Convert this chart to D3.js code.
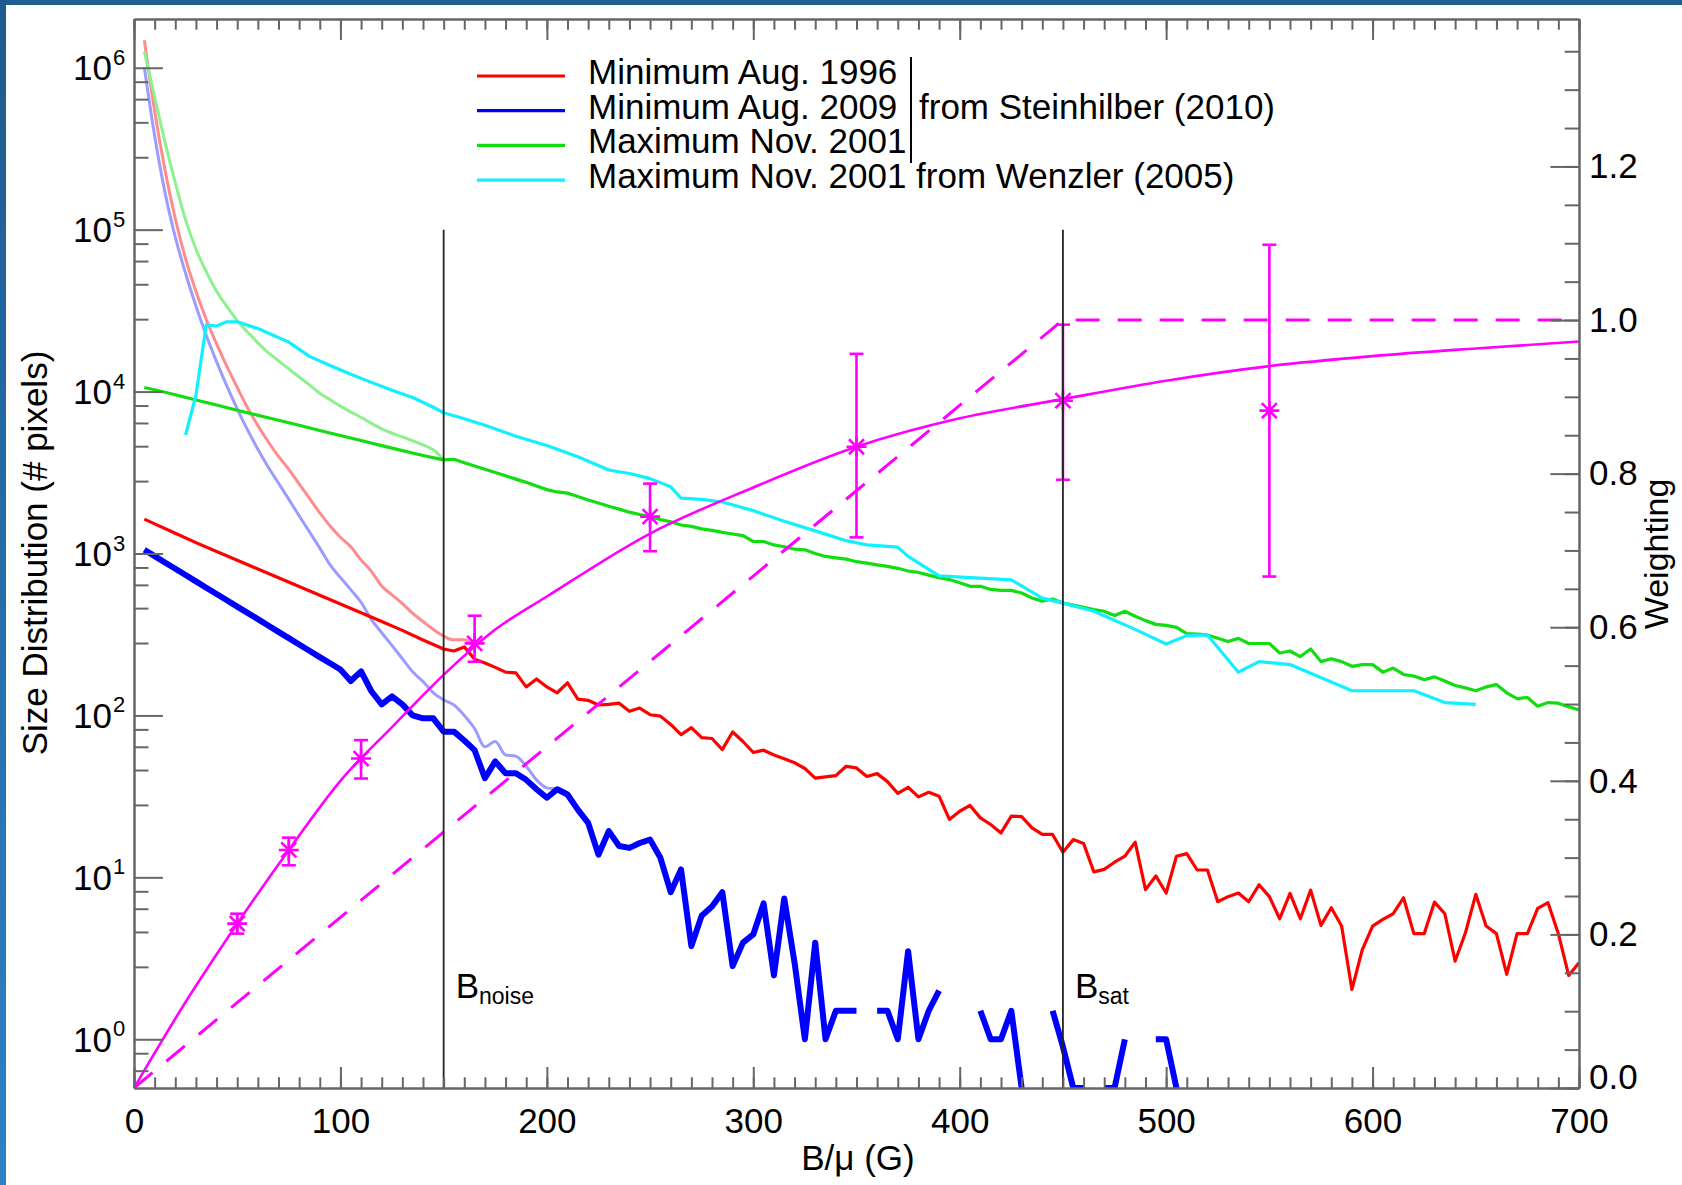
<!DOCTYPE html>
<html>
<head>
<meta charset="utf-8">
<script src="https://cdn.jsdelivr.net/npm/d3@7"></script>
<style>
  html, body { margin: 0; padding: 0; background: #fff; }
  svg { display: block; font-family: "Liberation Sans", Arial, Helvetica, sans-serif; }
</style>
</head>
<body>
<div id="chart"></div>
<script>
// size distributions, [B/mu in G, # pixels]; null = empty bin
const minimum1996 = [[5,1630],[10,1524],[20,1334],[30,1167],[40,1030],[50,908],[60,802],[70,708],[80,625],[90,552],[100,488],[110,431],[120,380],[130,335],[140,292],[150,257],
  [155,250],[160,265],[165,222],[170,211],[175,198],[180,185],[185,183],[190,150],[195,168],[200,150],[205,138],[210,159],[215,126],[220,124],[225,116],[230,117],[235,119],[240,106],[245,111],
  [250,101],[255,99],[260,88],[265,76],[270,84],[275,73],[280,72],[285,61.5],[290,79],[295,69],[300,59],[305,61],[310,57],[315,54],[320,51],[325,47],[330,41],[335,41.7],[340,42.5],[345,48.5],
  [350,47.4],[355,42],[360,43.7],[365,39],[370,33],[375,36],[380,31.4],[385,33.5],[390,31.7],[395,22.8],[400,25.6],[405,27.8],[410,23.3],[415,21.2],[420,18.8],[425,23.9],[430,23.7],[435,20.2],
  [440,18.4],[445,18.4],[450,14.3],[455,17.1],[460,16.2],[465,10.8],[470,11.2],[475,12.4],[480,13.5],[485,16.5],[490,8.4],[495,10.2],[500,8.0],[505,13.5],[510,14.0],[515,11.1],[520,11.1],
  [525,7.07],[530,7.6],[535,8.0],[540,7.07],[545,9.0],[550,7.6],[555,5.55],[560,7.96],[565,5.55],[570,8.34],[575,5.05],[580,6.49],[585,5.0],[590,2.03],[595,3.56],[600,5.0],[605,5.5],
  [610,5.96],[615,7.48],[620,4.49],[625,4.49],[630,7.03],[635,5.96],[640,3.04],[645,4.55],[650,7.85],[655,5.0],[660,4.49],[665,2.52],[670,4.49],[675,4.49],[680,6.43],[685,6.97],[690,4.49],
  [695,2.48],[700,2.97]];

const minimum2009 = [[5,1054],[10,964],[15,880],[20,805],[25,736],[30,673],[35,615],[40,562],[45,514],[50,470],[55,430],[60,393],[65,359],[70,328],[75,300],[80,274],[85,251],[90,229],[95,210],
  [100,192],[105,163],[110,187],[115,141],[120,117],[125,131],[130,117],[135,100],[140,96],[145,96],[150,79.4],[155,79.4],[160,70],[165,61],[170,41],[175,52],[180,44],[185,44],[190,40],[195,35],
  [200,31],[205,35],[210,32.5],[215,26.2],[220,21.7],[225,13.8],[230,19.3],[235,15.6],[240,15.2],[245,16.3],[250,17.1],[255,13.2],[260,8.1],[265,11.2],[270,3.76],[275,5.8],[280,6.6],[285,8.1],
  [290,2.83],[295,3.95],[300,4.44],[305,6.9],[310,2.48],[315,7.4],[320,2.97],[325,1],[330,3.95],[335,1],[340,1.5],[345,1.5],[350,1.5],[355,null],[360,1.5],[365,1.5],[370,1],[375,3.5],[380,1],
  [385,1.5],[390,2],[395,null],[400,null],[405,null],[410,1.5],[415,1],[420,1],[425,1.5],[430,0.5],[435,null],[440,null],[445,1.5],[450,0.9],[455,0.5],[460,0.5],[465,null],[470,0.5],[475,0.5],
  [480,1],[485,null],[490,null],[495,1],[500,1],[505,0.5]];

const maximum2001 = [[5,10600],[10,10260],[20,9550],[30,8870],[40,8260],[50,7670],[60,7140],[70,6650],[80,6190],[90,5750],[100,5360],[110,4990],[120,4640],[130,4320],[140,4030],[150,3785],
  [155,3820],[160,3630],[165,3470],[170,3310],[175,3160],[180,3020],[185,2880],[190,2750],[195,2610],[200,2480],[205,2400],[210,2360],[215,2250],[220,2140],[225,2050],[230,1960],[235,1880],
  [240,1800],[245,1740],[250,1690],[255,1620],[260,1570],[265,1500],[270,1470],[275,1420],[280,1390],[285,1350],[290,1320],[295,1290],[300,1186],[305,1186],[310,1130],[315,1100],[320,1063],
  [325,1054],[330,1000],[335,959],[340,940],[345,923],[350,890],[355,873],[360,850],[365,832],[370,810],[375,780],[380,764],[385,735],[390,710],[395,690],[400,660],[405,627],[410,627],[415,600],
  [420,592],[425,592],[430,570],[435,531],[440,507],[445,524],[450,494],[455,480],[460,465],[465,450],[470,440],[475,414],[480,440],[485,410],[490,385],[495,365],[500,360],[505,350],[510,320],
  [515,318],[520,314],[525,300],[530,286],[535,299],[540,278],[545,278],[550,278],[555,243],[560,250],[565,231],[570,257],[575,215],[580,224],[585,215],[590,201],[595,206],[600,206],[605,185],
  [610,196],[615,179],[620,175],[625,166],[630,173],[635,163],[640,153],[645,148],[650,142],[655,150],[660,155],[665,138],[670,127],[675,129],[680,114],[685,120],[690,119],[695,113],[700,108]];

const wenzler2001 = [[25,5400],[30,9500],[35,25800],[40,25400],[45,27000],[50,27000],[60,24500],[75,20200],[85,16500],[95,14500],[105,12800],[115,11400],[125,10200],[135,9200],[145,8000],
  [150,7400],[160,6800],[170,6200],[185,5300],[200,4650],[215,3960],[230,3280],[240,3120],[250,2900],[260,2580],[265,2200],[275,2160],[285,2080],[300,1840],[315,1580],[330,1380],[345,1200],
  [355,1130],[370,1094],[375,960],[390,728],[425,688],[440,530],[450,494],[465,440],[485,340],[500,276],[510,311],[520,314],[535,185],[545,215],[560,206],[590,142],[620,142],[635,120],[650,117]];

// faint versions (uncorrected) near the low-field end
const minimum1996Raw = [[5,1.48e6],[10,5.4e5],[15,2.34e5],[20,1.17e5],[25,6.6e4],[30,4.17e4],[35,2.79e4],[40,1.97e4],[45,1.43e4],[50,1.06e4],[55,7940],[60,6170],[65,4900],[70,3980],
  [75,3310],[80,2690],[85,2190],[90,1780],[95,1480],[100,1260],[105,1100],[110,912],[115,776],[120,630],[125,555],[130,490],[135,427],[140,380],[145,339],[150,309],[155,293],[160,293],[165,269]];
const minimum2009Raw = [[5,1.01e6],[10,3.8e5],[15,1.7e5],[20,9.0e4],[25,5.36e4],[30,3.38e4],[35,2.23e4],[40,1.53e4],[45,1.08e4],[50,7830],[55,5800],[60,4400],[65,3420],[70,2720],
  [75,2160],[80,1710],[85,1360],[90,1080],[95,850],[100,710],[105,598],[110,500],[115,390],[120,324],[125,270],[130,224],[135,186],[140,162],[145,138],[150,125],[155,116],[160,100],[165,83],
  [170,64],[175,69],[180,57],[185,56],[190,48.5],[195,40],[200,35.7],[205,35],[210,33],[215,26.5]];
const maximum2001Raw = [[5,1.26e6],[10,6.6e5],[15,3.47e5],[20,1.95e5],[25,1.15e5],[30,7.6e4],[35,5.5e4],[40,4.17e4],[45,3.35e4],[50,2.75e4],[55,2.33e4],[60,2.0e4],[65,1.74e4],
  [70,1.55e4],[75,1.38e4],[80,1.23e4],[85,1.1e4],[90,9770],[95,8910],[100,8130],[110,6920],[120,5890],[130,5250],[140,4680],[145,4370],[150,3785]];

// weighting (right axis)
const weightCurve = [[0,0],[25,0.112],[50,0.214],[75,0.31],[100,0.40],[125,0.47],[150,0.538],[175,0.597],[200,0.64],[250,0.722],[300,0.782],[350,0.835],[400,0.872],[450,0.897],
  [500,0.921],[550,0.94],[600,0.953],[650,0.963],[700,0.972]];
const weightStep = [[0,0],[450,1],[700,1]];
const pointB = [50, 75, 110, 165, 250, 350, 450, 550];
const pointW = [0.214, 0.31, 0.429, 0.579, 0.744, 0.835, 0.895, 0.882];
const pointLo = [0.201, 0.290, 0.403, 0.555, 0.699, 0.717, 0.792, 0.666];
const pointHi = [0.227, 0.326, 0.453, 0.615, 0.787, 0.956, 0.994, 1.098];

const thresholds = [{b: 150, name: 'noise'}, {b: 450, name: 'sat'}];

const xTicks = [0, 100, 200, 300, 400, 500, 600, 700];
const logTicks = [1, 10, 100, 1e3, 1e4, 1e5, 1e6];
const logMinorFactors = [2.8, 4.6, 6.4, 8.2];
const wTicks = [0, 0.2, 0.4, 0.6, 0.8, 1.0, 1.2];

const legendLabels = ['Minimum Aug. 1996', 'Minimum Aug. 2009', 'Maximum Nov. 2001', 'Maximum Nov. 2001 from Wenzler (2005)'];
const legendColors = ['#ff0000', '#0000ff', '#11dd11', '#11f0ff'];

var width = 1682, height = 1185;
var pLeft = 134, pRight = 1579, pTop = 19, pBottom = 1088;

var svg = d3.select('#chart').append('svg')
  .attr('width', width)
  .attr('height', height);

// blue page edge
var defs = svg.append('defs');
var grad = defs.append('linearGradient').attr('id', 'edge')
  .attr('x1', 0).attr('y1', 0).attr('x2', 0).attr('y2', 1);
grad.append('stop').attr('offset', '0%').attr('stop-color', '#1d5a8f');
grad.append('stop').attr('offset', '100%').attr('stop-color', '#2c82c6');
svg.append('rect').attr('width', width).attr('height', height).attr('fill', '#fff');
svg.append('rect').attr('x', 0).attr('y', 0).attr('width', width).attr('height', 5).attr('fill', '#1f5e93');
svg.append('rect').attr('x', 0).attr('y', 0).attr('width', 6).attr('height', height).attr('fill', 'url(#edge)');

defs.append('clipPath').attr('id', 'plotclip')
  .append('rect').attr('x', pLeft).attr('y', pTop).attr('width', pRight - pLeft).attr('height', pBottom - pTop);

var x = d3.scaleLinear().domain([0, 700]).range([pLeft, pRight]);
var y = d3.scaleLog().domain([0.5, 2e6]).range([pBottom, pTop]);
var yW = d3.scaleLinear().domain([0, 1.392]).range([pBottom, pTop]);

var logLine = d3.line()
  .defined(d => d[1] != null && d[1] > 0)
  .x(d => x(d[0]))
  .y(d => y(d[1]));
var smoothLine = d3.line()
  .curve(d3.curveMonotoneX)
  .x(d => x(d[0]))
  .y(d => y(d[1]));

var plot = svg.append('g').attr('clip-path', 'url(#plotclip)');

// faint curves first
[[minimum1996Raw, '#ff8c8c'], [minimum2009Raw, '#9c9cff'], [maximum2001Raw, '#8ef08e']].forEach(function(s) {
  plot.append('path').datum(s[0])
    .attr('d', smoothLine)
    .attr('fill', 'none')
    .attr('stroke', s[1])
    .attr('stroke-width', 3)
    .attr('stroke-linejoin', 'round');
});

plot.append('path').datum(maximum2001).attr('d', logLine)
  .attr('fill', 'none').attr('stroke', legendColors[2]).attr('stroke-width', 3.2).attr('stroke-linejoin', 'round');
plot.append('path').datum(wenzler2001).attr('d', logLine)
  .attr('fill', 'none').attr('stroke', legendColors[3]).attr('stroke-width', 3.2).attr('stroke-linejoin', 'round');
plot.append('path').datum(minimum1996).attr('d', logLine)
  .attr('fill', 'none').attr('stroke', legendColors[0]).attr('stroke-width', 3.2).attr('stroke-linejoin', 'round');
plot.append('path').datum(minimum2009).attr('d', logLine)
  .attr('fill', 'none').attr('stroke', legendColors[1]).attr('stroke-width', 6).attr('stroke-linejoin', 'round');

// weighting curves
plot.append('path').datum(weightCurve)
  .attr('d', d3.line().curve(d3.curveMonotoneX).x(d => x(d[0])).y(d => yW(d[1])))
  .attr('fill', 'none').attr('stroke', '#ff00ff').attr('stroke-width', 2.6);
plot.append('path').datum(weightStep)
  .attr('d', d3.line().x(d => x(d[0])).y(d => yW(d[1])))
  .attr('fill', 'none').attr('stroke', '#ff00ff').attr('stroke-width', 3)
  .attr('stroke-dasharray', '24,18');

// error bars + asterisks
var pts = plot.selectAll('.pt').data(pointB).enter().append('g').attr('class', 'pt')
  .attr('stroke', '#ff00ff').attr('stroke-width', 2.6).attr('fill', 'none');
pts.append('line')
  .attr('x1', d => x(d)).attr('x2', d => x(d))
  .attr('y1', (d, i) => yW(pointLo[i])).attr('y2', (d, i) => yW(pointHi[i]));
pts.append('line')
  .attr('x1', d => x(d) - 7).attr('x2', d => x(d) + 7)
  .attr('y1', (d, i) => yW(pointLo[i])).attr('y2', (d, i) => yW(pointLo[i]));
pts.append('line')
  .attr('x1', d => x(d) - 7).attr('x2', d => x(d) + 7)
  .attr('y1', (d, i) => yW(pointHi[i])).attr('y2', (d, i) => yW(pointHi[i]));
pts.append('path')
  .attr('transform', (d, i) => 'translate(' + x(d) + ',' + yW(pointW[i]) + ')')
  .attr('d', 'M-10,0L10,0M0,-10L0,10M-7.5,-7.5L7.5,7.5M-7.5,7.5L7.5,-7.5');

// threshold lines
thresholds.forEach(function(t) {
  svg.append('line')
    .attr('x1', x(t.b)).attr('x2', x(t.b))
    .attr('y1', y(1e5)).attr('y2', pBottom)
    .attr('stroke', '#222').attr('stroke-width', 1.8);
  var lab = svg.append('text')
    .attr('x', x(t.b) + 12).attr('y', 998)
    .attr('font-size', 35).attr('fill', '#000');
  lab.append('tspan').text('B');
  lab.append('tspan').attr('font-size', 23).attr('dy', 6).text(t.name);
});

// axes
function tidy(g) {
  g.select('.domain').attr('stroke', '#666').attr('stroke-width', 2);
  g.selectAll('.tick line').attr('stroke', '#666').attr('stroke-width', 2);
  g.selectAll('.tick text').attr('font-size', 35).attr('fill', '#000')
    .attr('font-family', '"Liberation Sans", Arial, Helvetica, sans-serif');
}
var xMinor = d3.range(0, 701, 10);
var logMinor = [];
[0.1, 1, 10, 100, 1e3, 1e4, 1e5, 1e6].forEach(function(dec) {
  logMinorFactors.forEach(function(f) {
    var v = dec * f;
    if (v >= 0.5 && v <= 2e6) logMinor.push(v);
  });
});
var wMinor = d3.range(0, 1.39, 0.05);

svg.append('g').attr('transform', 'translate(0,' + pBottom + ')')
  .call(d3.axisBottom(x).tickValues(xMinor).tickSize(-10.7).tickSizeOuter(0).tickFormat(''))
  .call(tidy);
svg.append('g').attr('transform', 'translate(0,' + pBottom + ')')
  .call(d3.axisBottom(x).tickValues(xTicks).tickSize(-21).tickSizeOuter(0).tickPadding(20).tickFormat(d3.format('d')))
  .call(tidy);
svg.append('g').attr('transform', 'translate(0,' + pTop + ')')
  .call(d3.axisTop(x).tickValues(xMinor).tickSize(-10.7).tickSizeOuter(0).tickFormat(''))
  .call(tidy);
svg.append('g').attr('transform', 'translate(0,' + pTop + ')')
  .call(d3.axisTop(x).tickValues(xTicks).tickSize(-21).tickSizeOuter(0).tickFormat(''))
  .call(tidy);

svg.append('g').attr('transform', 'translate(' + pLeft + ',0)')
  .call(d3.axisLeft(y).tickValues(logMinor).tickSize(-14.5).tickSizeOuter(0).tickFormat(''))
  .call(tidy);
svg.append('g').attr('transform', 'translate(' + pLeft + ',0)')
  .call(d3.axisLeft(y).tickValues(logTicks).tickSize(-28.9).tickSizeOuter(0).tickFormat(''))
  .call(tidy);

svg.append('g').attr('transform', 'translate(' + pRight + ',0)')
  .call(d3.axisRight(yW).tickValues(wMinor).tickSize(-14.3).tickSizeOuter(0).tickFormat(''))
  .call(tidy);
var rAxis = svg.append('g').attr('transform', 'translate(' + pRight + ',0)')
  .call(d3.axisRight(yW).tickValues(wTicks).tickSize(-28.6).tickSizeOuter(0).tickPadding(10).tickFormat(d3.format('.1f')))
  .call(tidy);
rAxis.selectAll('.tick text').filter(d => d === 0).attr('dy', '0em');

// log labels 10^n
var decLab = svg.append('g').attr('font-size', 35).attr('fill', '#000');
logTicks.forEach(function(v) {
  decLab.append('text').attr('x', 112).attr('y', y(v)).attr('dy', '0.36em')
    .attr('text-anchor', 'end').text('10');
  decLab.append('text').attr('x', 113).attr('y', y(v) - 3)
    .attr('font-size', 22).text(Math.round(Math.log10(v)));
});

// titles
svg.append('text')
  .attr('transform', 'translate(47,553) rotate(-90)')
  .attr('text-anchor', 'middle').attr('font-size', 35)
  .text('Size Distribution (# pixels)');
svg.append('text')
  .attr('x', 858).attr('y', 1170)
  .attr('text-anchor', 'middle').attr('font-size', 35)
  .text('B/\u03bc (G)');
svg.append('text')
  .attr('transform', 'translate(1668,554) rotate(-90)')
  .attr('text-anchor', 'middle').attr('font-size', 34)
  .text('Weighting');

// legend
var leg = svg.append('g');
legendLabels.forEach(function(label, i) {
  var ly = 84 + i * 34.7;
  leg.append('line')
    .attr('x1', 477).attr('x2', 565)
    .attr('y1', ly - 8).attr('y2', ly - 8)
    .attr('stroke', legendColors[i]).attr('stroke-width', 3.2);
  leg.append('text').attr('x', 588).attr('y', ly)
    .attr('font-size', 35).text(label);
});
leg.append('line').attr('x1', 911).attr('x2', 911).attr('y1', 57).attr('y2', 163)
  .attr('stroke', '#000').attr('stroke-width', 2);
leg.append('text').attr('x', 919).attr('y', 84 + 34.7)
  .attr('font-size', 35).text('from Steinhilber (2010)');
</script>
</body>
</html>
